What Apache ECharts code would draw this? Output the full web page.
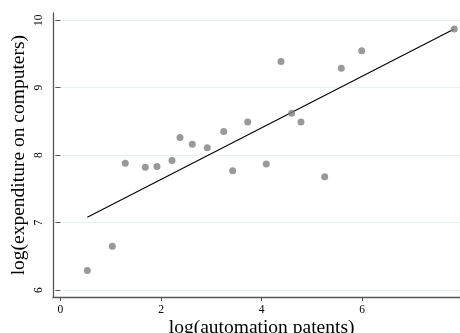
<!DOCTYPE html>
<html><head><meta charset="utf-8">
<script src="https://cdn.jsdelivr.net/npm/echarts@6/dist/echarts.min.js"></script>
<style>html,body{margin:0;padding:0;background:#fff}#c{width:460px;height:333px}</style>
</head><body><div id="c"></div>
<script>
// data
const patents = [0.535,1.032,1.29,1.688,1.92,2.219,2.378,2.622,2.92,3.247,3.425,3.724,4.093,4.386,4.598,4.783,5.254,5.584,5.99,7.83];
const spending = [6.29,6.65,7.88,7.82,7.83,7.92,8.26,8.16,8.11,8.35,7.77,8.49,7.87,9.39,8.62,8.49,7.68,9.29,9.55,9.87];
const fitX = [0.535, 7.83];
const fitY = [7.08, 9.87];
const xTicks = [0, 2, 4, 6, 8];
const yTicks = [6, 7, 8, 9, 10];
const xTitle = 'log(automation patents)';
const yTitle = 'log(expenditure on computers)';

const font = 'Liberation Serif';
const axisCol = '#555555';
const pts = patents.map((x, i) => [x, spending[i]]);
const fit = fitX.map((x, i) => [x, fitY[i]]);

// layout (pixels)
const gx0 = 60.4, pxPerX = 50.3;      // x=0 position, px per unit
const gyTop = 20.3, gyH = 269.7;      // y=10 .. y=6
const boxL = 53, boxT = 13, boxB = 297;
const xMinA = (boxL - gx0) / pxPerX;

const chart = echarts.init(document.getElementById('c'), null, {renderer: 'canvas'});
chart.setOption({
  animation: false,
  backgroundColor: '#fff',
  grid: [
    {left: boxL, top: gyTop, width: (xTicks[4] - xMinA) * pxPerX, height: gyH, outerBoundsMode: 'none', containLabel: false},
    {left: gx0, top: gyTop, width: xTicks[4] * pxPerX, height: gyH, outerBoundsMode: 'none', containLabel: false},
    {left: boxL, top: boxT, right: 0, height: boxB - boxT, outerBoundsMode: 'none', containLabel: false}
  ],
  xAxis: [
    {gridIndex: 0, type: 'value', min: xMinA, max: xTicks[4], show: false},
    {gridIndex: 1, type: 'value', min: xTicks[0], max: xTicks[4], interval: 2, offset: 7,
     axisLine: {show: false}, splitLine: {show: false},
     axisTick: {show: true, length: 4, lineStyle: {color: axisCol, width: 1}},
     axisLabel: {margin: 7, fontFamily: font, fontSize: 11.5, color: '#000', showMaxLabel: true, showMinLabel: true, hideOverlap: false,
       formatter: v => xTicks.includes(v) ? String(v) : ''},
     name: xTitle, nameLocation: 'middle', nameGap: 20.5, nameMoveOverlap: false,
     nameTextStyle: {fontFamily: font, fontSize: 19.5, color: '#000'}},
    {gridIndex: 2, type: 'value', min: 0, max: 1,
     axisLine: {show: true, lineStyle: {color: axisCol, width: 1.3}},
     axisTick: {show: false}, axisLabel: {show: false}, splitLine: {show: false}}
  ],
  yAxis: [
    {gridIndex: 0, type: 'value', min: yTicks[0], max: yTicks[4], interval: 1,
     axisLine: {show: false},
     axisTick: {show: true, length: 5, lineStyle: {color: axisCol, width: 1}},
     axisLabel: {rotate: 90, margin: 8, fontFamily: font, fontSize: 11.5, color: '#000'},
     splitLine: {show: true, lineStyle: {color: '#e9f1f2', width: 1}},
     name: yTitle, nameLocation: 'middle', nameGap: 24, nameMoveOverlap: false,
     nameTextStyle: {fontFamily: font, fontSize: 19.5, color: '#000'}},
    {gridIndex: 1, type: 'value', min: yTicks[0], max: yTicks[4], show: false},
    {gridIndex: 2, type: 'value', min: 0, max: 1,
     axisLine: {show: true, lineStyle: {color: axisCol, width: 1.3}},
     axisTick: {show: false}, axisLabel: {show: false}, splitLine: {show: false}}
  ],
  series: [
    {type: 'scatter', xAxisIndex: 0, yAxisIndex: 0, data: pts, symbolSize: 7,
     itemStyle: {color: '#808080'}, z: 3},
    {type: 'line', xAxisIndex: 0, yAxisIndex: 0, data: fit, symbol: 'none',
     lineStyle: {color: '#000', width: 1.1}, z: 2}
  ]
});
</script></body></html>
